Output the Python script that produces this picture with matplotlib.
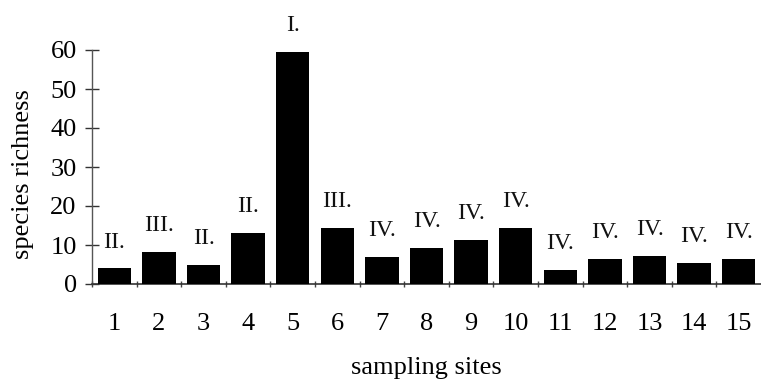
import matplotlib.pyplot as plt
from matplotlib.ticker import FixedLocator

sites = ["1", "2", "3", "4", "5", "6", "7", "8", "9", "10", "11", "12", "13", "14", "15"]
richness = [4, 8.3, 5, 13.2, 59.5, 14.3, 7, 9.2, 11.4, 14.3, 3.5, 6.4, 7.3, 5.4, 6.5]
groups = ["II.", "III.", "II.", "II.", "I.", "III.", "IV.", "IV.", "IV.", "IV.",
          "IV.", "IV.", "IV.", "IV.", "IV."]
yticks = [0, 10, 20, 30, 40, 50, 60]

plt.rcParams['font.family'] = ['Liberation Serif', 'DejaVu Serif']

fig = plt.figure(figsize=(7.61, 3.83), dpi=100)
W, H = 761, 383
# axes placed in pixel terms: y axis at x=92, zero line at y=284, 60 at y=50
ax = fig.add_axes([92 / W, (H - 284) / H, (W - 92) / W, (284 - 50) / H])

x = list(range(1, len(sites) + 1))
bars = ax.bar(x, richness, width=0.75, color="black", zorder=3)

# group labels above every bar
for xi, v, g in zip(x, richness, groups):
    ax.annotate(g, (xi, v), xytext=(0, 19), textcoords="offset points",
                ha="center", va="center", fontsize=17, color="#111111",
                annotation_clip=False)

ax.set_xlim(0.5, 15.5)
ax.set_ylim(0, 60)

for s in ["top", "right"]:
    ax.spines[s].set_visible(False)
ax.spines["left"].set_color("#555555")
ax.spines["left"].set_linewidth(1.0)
ax.spines["bottom"].set_color("#333333")
ax.spines["bottom"].set_linewidth(1.2)

ax.set_yticks(yticks)
ax.tick_params(axis="y", direction="inout", length=10, width=1.0,
               color="#333333", labelsize=19, pad=6)

ax.set_xticks(x)
ax.set_xticklabels(sites)
ax.xaxis.set_minor_locator(FixedLocator([i + 0.5 for i in range(0, 15)]))
ax.tick_params(axis="x", which="major", length=0, labelsize=19, pad=21)
ax.tick_params(axis="x", which="minor", direction="inout", length=5,
               width=1.0, color="#444444")

ax.set_xlabel("sampling sites", fontsize=19, labelpad=16)
ax.set_ylabel("species richness", fontsize=19)
ax.yaxis.set_label_coords(-0.087, 0.47)

fig.savefig("out.png", dpi=100)
